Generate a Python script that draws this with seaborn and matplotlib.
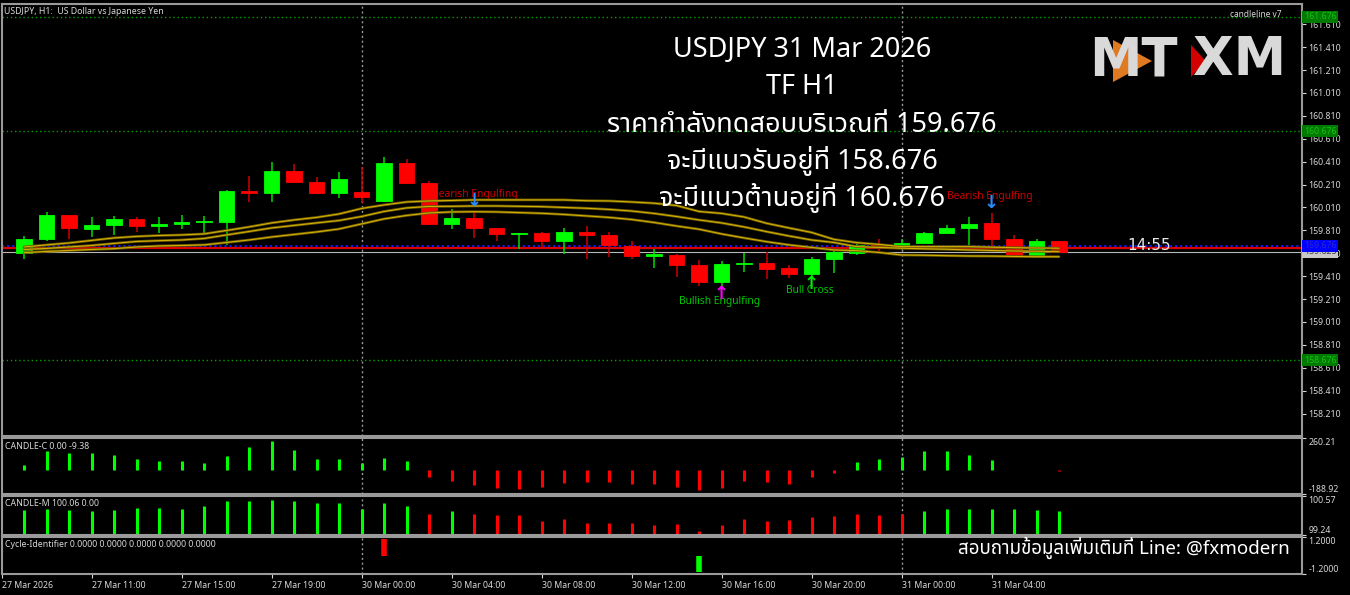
import numpy as np
import pandas as pd
import matplotlib.pyplot as plt
import seaborn as sns
from matplotlib.patches import Polygon

# tema scuro stile MT4
sns.set_theme(style="dark", rc={
    "axes.facecolor": "black", "figure.facecolor": "black",
    "axes.edgecolor": "#9a9a9a", "axes.linewidth": 1.5,
    "xtick.color": "#d8d8d8", "ytick.color": "#d8d8d8",
})
plt.rcParams['font.family'] = ['Noto Sans Thai', 'DejaVu Sans']

# candele H1 USDJPY: indice 0 = 27 Mar 08:00, indice 46 = 31 Mar 07:00
opens = [159.615, 159.737, 159.942, 159.822, 159.857, 159.910, 159.846, 159.866, 159.881, 159.886,
         160.157, 160.137, 160.329, 160.235, 160.137, 160.145, 160.067, 160.396, 160.227, 159.869,
         159.921, 159.834, 159.781, 159.787, 159.717, 159.793, 159.770, 159.674, 159.589, 159.595,
         159.508, 159.362, 159.514, 159.523, 159.482, 159.432, 159.558, 159.610, 159.683, 159.668,
         159.703, 159.790, 159.834, 159.875, 159.735, 159.595, 159.715]
highs = [159.761, 159.971, 159.947, 159.924, 159.936, 159.924, 159.924, 159.942, 159.936, 160.163,
         160.285, 160.405, 160.387, 160.279, 160.317, 160.366, 160.454, 160.434, 160.241, 159.994,
         159.973, 159.834, 159.787, 159.799, 159.828, 159.848, 159.799, 159.720, 159.645, 159.601,
         159.552, 159.543, 159.610, 159.624, 159.508, 159.580, 159.645, 159.706, 159.732, 159.732,
         159.799, 159.857, 159.930, 159.959, 159.770, 159.732, 159.720]
lows = [159.563, 159.720, 159.735, 159.755, 159.770, 159.796, 159.785, 159.820, 159.785, 159.683,
        160.055, 160.061, 160.227, 160.134, 160.090, 160.047, 160.061, 160.213, 159.860, 159.822,
        159.746, 159.720, 159.645, 159.662, 159.601, 159.563, 159.580, 159.563, 159.479, 159.406,
        159.324, 159.313, 159.449, 159.383, 159.392, 159.406, 159.441, 159.598, 159.633, 159.639,
        159.697, 159.785, 159.683, 159.668, 159.580, 159.586, 159.613]
closes = [159.737, 159.942, 159.828, 159.860, 159.910, 159.846, 159.866, 159.883, 159.892, 160.157,
          160.137, 160.329, 160.235, 160.137, 160.256, 160.099, 160.396, 160.221, 159.869, 159.921,
          159.834, 159.779, 159.785, 159.717, 159.793, 159.770, 159.680, 159.586, 159.601, 159.508,
          159.362, 159.517, 159.528, 159.470, 159.432, 159.560, 159.624, 159.683, 159.668, 159.703,
          159.790, 159.828, 159.869, 159.735, 159.595, 159.715, 159.625]

# tre medie (canale)
ma_upper = [159.665, 159.683, 159.700, 159.722, 159.744, 159.757, 159.765, 159.770, 159.779, 159.809,
            159.840, 159.875, 159.901, 159.923, 159.953, 160.001, 160.032, 160.058, 160.067, 160.071,
            160.076, 160.076, 160.076, 160.076, 160.076, 160.069, 160.067, 160.058, 160.047, 160.027,
            159.975, 159.958, 159.927, 159.872, 159.831, 159.792, 159.731, 159.703, 159.687, 159.668,
            159.668, 159.668, 159.668, 159.663, 159.659, 159.656, 159.654]
ma_mid = [159.643, 159.652, 159.665, 159.678, 159.696, 159.713, 159.720, 159.726, 159.739, 159.770,
          159.800, 159.831, 159.853, 159.875, 159.896, 159.931, 159.975, 160.006, 160.019, 160.020,
          160.023, 160.023, 160.020, 160.017, 160.010, 160.003, 159.993, 159.979, 159.958, 159.931,
          159.901, 159.875, 159.840, 159.799, 159.761, 159.726, 159.704, 159.668, 159.661, 159.654,
          159.649, 159.645, 159.639, 159.634, 159.630, 159.628, 159.624]
ma_lower = [159.615, 159.626, 159.634, 159.643, 159.650, 159.665, 159.674, 159.678, 159.683, 159.704,
            159.726, 159.752, 159.774, 159.796, 159.822, 159.866, 159.910, 159.940, 159.962, 159.971,
            159.973, 159.971, 159.965, 159.959, 159.949, 159.936, 159.923, 159.905, 159.879, 159.848,
            159.820, 159.779, 159.744, 159.711, 159.683, 159.661, 159.639, 159.633, 159.617, 159.595,
            159.593, 159.589, 159.586, 159.585, 159.582, 159.580, 159.580]

# indicatori
candle_c = [44, 159, 142, 137, 121, 90, 74, 74, 57, 115, 192, 235, 167, 90, 90, 57, 96, 74,
            -52, -88, -116, -143, -149, -130, -102, -94, -94, -107, -110, -129, -160, -137, -81,
            -93, -106, -56, -17, 69, 90, 104, 153, 159, 127, 86, 6, 7, -8]
candle_m = [100.08, 100.13, 100.08, 100.05, 100.10, 100.15, 100.15, 100.12, 100.23, 100.41,
            100.39, 100.44, 100.39, 100.32, 100.33, 100.11, 100.34, 100.23, 99.97, 100.05,
            99.97, 99.92, 99.92, 99.73, 99.78, 99.66, 99.66, 99.66, 99.58, 99.63,
            99.38, 99.57, 99.77, 99.72, 99.75, 99.85, 99.89, 99.97, 99.92, 99.95,
            100.05, 100.12, 100.14, 100.12, 100.12, 100.10, 100.05]
candle_m_dir = [1] * 18 + [-1, 1] + [-1] * 20 + [1] * 7
cycle = [0] * 47
cycle[16] = 1.1
cycle[30] = -1.1

price_ticks = [161.610, 161.410, 161.210, 161.010, 160.810, 160.610, 160.410, 160.210, 160.010,
               159.810, 159.610, 159.410, 159.210, 159.010, 158.810, 158.610, 158.410, 158.210]
time_tick_pos = [-1, 3, 7, 11, 15, 19, 23, 27, 31, 35, 39, 43]
time_tick_labels = ['27 Mar 2026', '27 Mar 11:00', '27 Mar 15:00', '27 Mar 19:00', '30 Mar 00:00',
                    '30 Mar 04:00', '30 Mar 08:00', '30 Mar 12:00', '30 Mar 16:00', '30 Mar 20:00',
                    '31 Mar 00:00', '31 Mar 04:00']

df = pd.DataFrame({'bar': np.arange(len(opens)), 'open': opens, 'high': highs, 'low': lows,
                   'close': closes, 'up': ma_upper, 'mid': ma_mid, 'dn': ma_lower})

W, H = 1350, 595
fig = plt.figure(figsize=(13.5, 5.95), dpi=100)


def px_axes(top, bottom, left=2, right=1302):
    return fig.add_axes([left / W, 1 - bottom / H, (right - left) / W, (bottom - top) / H])


def fx(px):
    return px / W


def fy(py):
    return 1 - py / H


ax = px_axes(4, 436)
ax_c = px_axes(438, 494)
ax_m = px_axes(496, 535)
ax_cy = px_axes(537, 574)
xlim = ((2 - 24) / 22.5, (1302 - 24) / 22.5)
for a in (ax, ax_c, ax_m, ax_cy):
    a.set_xlim(*xlim)
    a.set_facecolor('black')
    for s in a.spines.values():
        s.set_color('#9a9a9a')
    a.tick_params(axis='x', bottom=False, labelbottom=False)
    a.axvline(15, color='#9a9a9a', ls=(0, (1.5, 2)), lw=1)
    a.axvline(39, color='#9a9a9a', ls=(0, (1.5, 2)), lw=1)

# --- pannello prezzi ---
ax.set_ylim(158.014, 161.787)
green, red = '#00ff00', '#ff0000'
is_up = df['close'] >= df['open']
cols = np.where(is_up, green, red)
wick_cols = np.where(is_up, '#00dd00', '#cc0000')
ax.vlines(df['bar'], df['low'], df['high'], colors=wick_cols, lw=1.1, zorder=3)
body_h = (df['close'] - df['open']).abs().clip(lower=0.006)
ax.bar(df['bar'], body_h, bottom=df[['open', 'close']].min(axis=1), width=0.7,
       color=cols, edgecolor=cols, linewidth=0.6, zorder=4)

for col in ['up', 'mid', 'dn']:
    sns.lineplot(data=df, x='bar', y=col, ax=ax, color='#6e5c00', lw=1.9, zorder=5)
    sns.lineplot(data=df, x='bar', y=col, ax=ax, color='#d9b400', lw=0.7, zorder=6)

ax.axhline(159.654, color='#dd0000', lw=1.6, zorder=2)
ax.axhline(159.625, color='#b8b8b8', lw=0.8, zorder=2)
ax.axhline(159.676, color='#1a1aff', lw=1.3, ls=(0, (1.2, 1.6)), zorder=2)
for lvl in (161.676, 160.676, 158.676):
    ax.axhline(lvl, color='#00a000', lw=1, ls=(0, (1, 2)), zorder=2)

ax.set_xlabel('')
ax.set_ylabel('')
ax.yaxis.tick_right()
ax.set_yticks(price_ticks)
ax.set_yticklabels([f'{t:.3f}' for t in price_ticks])
ax.tick_params(axis='y', labelsize=6.3, length=3, pad=1.5, width=0.8, colors='#d8d8d8',
               right=True, left=False, labelright=True, labelleft=False)

# etichette di prezzo a destra
yt = ax.get_yaxis_transform()
box_font = dict(fontsize=6.3, va='center', ha='left', transform=yt, clip_on=False, zorder=20)
ax.text(1.0015, 159.625, '159.625', color='#404040', bbox=dict(fc='#c8c8c8', ec='none', pad=1.2), **box_font)
ax.text(1.0015, 159.676, '159.676', color='#2a2acc', bbox=dict(fc='#0000ff', ec='none', pad=1.2), **box_font)
for lvl in (161.676, 160.676, 158.676):
    ax.text(1.0015, lvl, f'{lvl:.3f}', color='#17c017', bbox=dict(fc='#007a00', ec='none', pad=1.2), **box_font)

# segnali pattern
sig = dict(fontsize=7.4, zorder=3.5, va='center', ha='left')
ax.text(18.13, 160.119, 'Bearish Engulfing', color='#d00000', **sig)
ax.text(41.02, 160.102, 'Bearish Engulfing', color='#d00000', **sig)
ax.text(29.11, 159.185, 'Bullish Engulfing', color='#00c800', **sig)
ax.text(33.87, 159.281, 'Bull Cross', color='#00c800', **sig)
arr = dict(fontsize=13, fontweight='bold', ha='center', va='center', zorder=7, family='DejaVu Sans')
ax.text(20, 160.070, '↓', color='#2b8cff', **arr)
ax.text(43, 160.052, '↓', color='#2b8cff', **arr)
ax.text(31, 159.250, '↑', color='#ff00ff', **arr)
ax.text(35, 159.338, '↑', color='#00ee00', **arr)
ax.text(50.0, 159.674, '14:55', color='#e8e8e8', fontsize=11, ha='center', va='center', zorder=8,
        family='DejaVu Sans')

# --- CANDLE-C ---
c_arr = np.array(candle_c)
ax_c.set_ylim(-188.92, 260.21)
ax_c.vlines(df['bar'], 0, c_arr, colors=np.where(c_arr >= 0, green, red), lw=2.2)
# --- CANDLE-M ---
ax_m.set_ylim(99.24, 100.57)
ax_m.vlines(df['bar'], 99.24, candle_m, colors=np.where(np.array(candle_m_dir) > 0, green, red), lw=2.2)
# --- Cycle-Identifier ---
cy = np.array(cycle, dtype=float)
ax_cy.set_ylim(-1.2, 1.2)
nz = cy != 0
ax_cy.vlines(df['bar'][nz], 0, cy[nz], colors=np.where(cy[nz] > 0, red, green), lw=4.0)

for a, lo, hi, fmt in ((ax_c, -188.92, 260.21, '{:.2f}'), (ax_m, 99.24, 100.57, '{:.2f}'),
                       (ax_cy, -1.2, 1.2, '{:.4f}')):
    a.yaxis.tick_right()
    a.set_yticks([hi, lo])
    a.set_yticklabels([fmt.format(hi), fmt.format(lo)])
    a.tick_params(axis='y', labelsize=6.3, length=3, pad=1.5, width=0.8, colors='#d8d8d8',
                  right=True, left=False, labelright=True, labelleft=False)
    tl = a.get_yticklabels()
    tl[0].set_va('top')
    tl[1].set_va('bottom')

ax_cy.tick_params(axis='x', bottom=True, labelbottom=True, length=3, width=0.8, pad=2,
                  labelsize=6.3, colors='#d8d8d8')
ax_cy.set_xticks(time_tick_pos)
ax_cy.set_xticklabels(time_tick_labels)
for t in ax_cy.get_xticklabels():
    t.set_ha('left')

# nomi indicatori
lab = dict(fontsize=6.3, color='#d8d8d8', va='top', ha='left')
for a, name in ((ax_c, 'CANDLE-C 0.00 -9.38'), (ax_m, 'CANDLE-M 100.06 0.00'),
                (ax_cy, 'Cycle-Identifier 0.0000 0.0000 0.0000 0.0000 0.0000')):
    a.text(0.002, 0.93, name, transform=a.transAxes, **lab)
fig.text(fx(4), fy(7), 'USDJPY, H1:  US Dollar vs Japanese Yen', **lab)
fig.text(fx(1282), fy(10), 'candleline v7', fontsize=6, color='#d8d8d8', va='top', ha='right')

# testo analisi
txt = dict(color='white', ha='center', va='center', fontsize=19.5)
fig.text(fx(802), fy(50), 'USDJPY 31 Mar 2026', **txt)
fig.text(fx(802), fy(87), 'TF H1', **txt)
fig.text(fx(802), fy(125), 'ราคากำลังทดสอบบริเวณที่ 159.676', **txt)
fig.text(fx(802), fy(161), 'จะมีแนวรับอยู่ที่ 158.676', **txt)
fig.text(fx(802), fy(198), 'จะมีแนวต้านอยู่ที่ 160.676', **txt)
fig.text(fx(1290), fy(548), 'สอบถามข้อมูลเพิ่มเติมที่ Line: @fxmodern', color='white',
         ha='right', va='center', fontsize=13.5)

# logo MT / XM
fig.add_artist(Polygon([(fx(1113), fy(40)), (fx(1113), fy(82)), (fx(1152), fy(61))],
                       closed=True, fc='#e07a22', ec='none', transform=fig.transFigure, zorder=1))
fig.add_artist(Polygon([(fx(1191), fy(45)), (fx(1191), fy(77)), (fx(1206), fy(61))],
                       closed=True, fc='#d40000', ec='none', transform=fig.transFigure, zorder=1))
fig.text(fx(1089), fy(60), 'MT', color='#d9d9d9', fontsize=38, fontweight='bold',
         ha='left', va='center', family='DejaVu Sans', zorder=2)
fig.text(fx(1286), fy(60), 'XM', color='#d9d9d9', fontsize=38, fontweight='bold',
         ha='right', va='center', family='DejaVu Sans', zorder=2)

fig.savefig('out.png', dpi=100, facecolor='black')
